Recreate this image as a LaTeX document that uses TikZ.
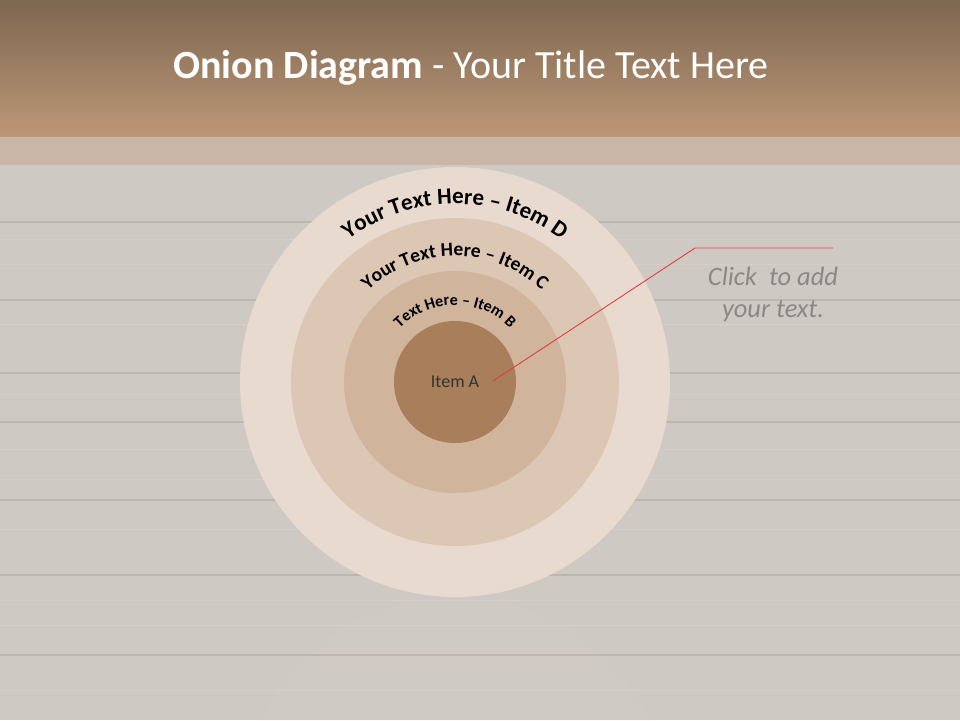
\documentclass[tikz,border=0pt]{standalone}
\usepackage{fontspec}
\setmainfont{Carlito}
\usetikzlibrary{positioning,decorations.text}
\definecolor{headtop}{HTML}{7E6750}
\definecolor{headbot}{HTML}{BC9777}
\definecolor{band}{HTML}{C9B6A6}
\definecolor{wood}{HTML}{CFC9C4}
\definecolor{seam}{HTML}{BDB5AF}
\definecolor{ringD}{HTML}{E8DACE}
\definecolor{ringC}{HTML}{DCC7B5}
\definecolor{ringB}{HTML}{D0B49C}
\definecolor{ringA}{HTML}{A87E5B}
\definecolor{callout}{HTML}{E0403C}
\definecolor{hint}{HTML}{8C8885}
\tikzset{
	every picture/.style={x=1pt, y=1pt},
	ring/.style={circle, inner sep=0pt, draw=none, fill=#1},
	arclabel/.style={decorate, decoration={text along path, text align=center, text={#1}}},
}

\begin{document}
\begin{tikzpicture}
	\useasboundingbox (0,0) rectangle (960,720);
	% background
	\fill[wood] (0,0) rectangle (960,555);
	\foreach \y in {498,420,347,298,220,145,65}
		\draw[seam, line width=1.5pt] (0,\y) -- (960,\y);
	\foreach \y in {480,455,395,325,270,240,190,120,95,30}
		\draw[white, opacity=0.12, line width=1pt] (0,\y) -- (960,\y);
	\fill[band] (0,555) rectangle (960,583);
	\shade[top color=headtop, bottom color=headbot] (0,583) rectangle (960,720);
	\node[text=white, font=\fontsize{40}{44}\selectfont] (title) at (471,652)
		{\textbf{Onion Diagram} - Your Title Text Here};

	% reflection
	\begin{scope}
		\clip (0,0) rectangle (960,123);
		\fill[ringD, opacity=0.08] (455,-92) circle[radius=215pt];
	\end{scope}

	% onion rings
	\coordinate (c) at (455,338);
	\node[ring=ringD, minimum size=430pt] (itemD) at (c) {};
	\node[ring=ringC, minimum size=328pt] (itemC) at (c) {};
	\node[ring=ringB, minimum size=222pt] (itemB) at (c) {};
	\node[ring=ringA, minimum size=122pt, font=\fontsize{18}{21}\selectfont, text=black!80] (itemA) at (c) {Item A};

	% curved labels
	\path[arclabel={|\bfseries\fontsize{23}{27}\selectfont|Your Text Here – Item D}]
		(c) ++(140:178pt) arc[start angle=140, end angle=40, radius=178pt];
	\path[arclabel={|\bfseries\fontsize{19.5}{23}\selectfont|Your Text Here – Item C}]
		(c) ++(145:126pt) arc[start angle=145, end angle=35, radius=126pt];
	\path[arclabel={|\bfseries\fontsize{16}{19}\selectfont|Text Here – Item B}]
		(c) ++(155:77pt) arc[start angle=155, end angle=25, radius=77pt];

	% callout
	\node[text=hint, font=\itshape\fontsize{26.5}{32}\selectfont, align=center] (note) at (773,426)
		{Click\ \ to add\\your text.};
	\coordinate (bend) at (695,472);
	\coordinate (tail) at (833,472);
	\draw[callout, line width=0.9pt] (itemA.center) ++(38,1) coordinate (tip) -- (bend) -- (tail);
\end{tikzpicture}
\end{document}
